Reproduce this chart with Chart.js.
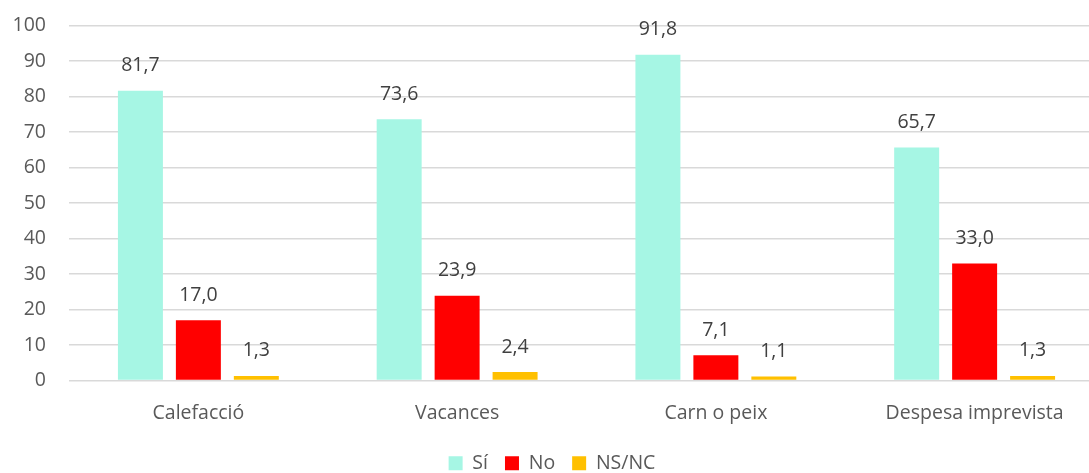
<!DOCTYPE html>
<html>
<head>
<meta charset="utf-8">
<script src="https://cdn.jsdelivr.net/npm/chart.js@4"></script>
<style>
  html, body { margin: 0; padding: 0; background: #fff; overflow: hidden; }
  #wrap { width: 1089px; height: 473px; overflow: hidden; }
  #box { width: 1104px; height: 492px; margin-top: -9px; }
</style>
</head>
<body>
<div id="wrap"><div id="box"><canvas id="chart"></canvas></div></div>
<script>
const categories = ['Calefacció', 'Vacances', 'Carn o peix', 'Despesa imprevista'];
const si = [81.7, 73.6, 91.8, 65.7];
const no = [17.0, 23.9, 7.1, 33.0];
const nsnc = [1.3, 2.4, 1.1, 1.3];
const yTicks = [0, 10, 20, 30, 40, 50, 60, 70, 80, 90, 100];

const FONT = "'Open Sans', 'DejaVu Sans', sans-serif";
const SIZE = 19.5;

// value labels above each bar, comma decimal
const barLabels = {
    id: 'barLabels',
    afterDatasetsDraw(chart) {
        const ctx = chart.ctx;
        ctx.save();
        ctx.font = SIZE + 'px ' + FONT;
        ctx.fillStyle = '#404040';
        ctx.textAlign = 'center';
        ctx.textBaseline = 'middle';
        chart.data.datasets.forEach((ds, i) => {
            chart.getDatasetMeta(i).data.forEach((bar, j) => {
                const txt = ds.data[j].toFixed(1).replace('.', ',');
                ctx.fillText(txt, bar.x, bar.y - 25);
            });
        });
        ctx.restore();
    }
};

new Chart(document.getElementById('chart').getContext('2d'), {
    type: 'bar',
    data: {
        labels: categories,
        datasets: [
            { label: 'Sí', data: si, backgroundColor: '#a6f6e4' },
            { label: 'No', data: no, backgroundColor: '#ff0000' },
            { label: 'NS/NC', data: nsnc, backgroundColor: '#ffc000' }
        ]
    },
    options: {
        responsive: true,
        maintainAspectRatio: false,
        animation: false,
        layout: { padding: { top: 4, left: 0, right: 0, bottom: 0 } },
        datasets: {
            bar: { categoryPercentage: 0.672, barPercentage: 0.776 }
        },
        plugins: {
            tooltip: { enabled: false },
            legend: {
                position: 'bottom',
                labels: {
                    font: { family: FONT, size: SIZE },
                    color: '#595959',
                    boxWidth: 14,
                    boxHeight: 14,
                    padding: 17
                }
            }
        },
        scales: {
            x: {
                grid: { display: false },
                border: { display: false },
                ticks: { font: { family: FONT, size: SIZE }, color: '#595959', padding: 13 },
                afterFit: s => { s.height = 56; }
            },
            y: {
                min: 0,
                max: 100,
                afterBuildTicks: s => { s.ticks = yTicks.map(v => ({ value: v })); },
                grid: { color: '#d9d9d9', lineWidth: 1.5, drawTicks: false },
                border: { display: false },
                ticks: { font: { family: FONT, size: SIZE }, color: '#595959', padding: 23 },
                afterFit: s => { s.width = 69; }
            }
        }
    },
    plugins: [barLabels]
});
</script>
</body>
</html>
